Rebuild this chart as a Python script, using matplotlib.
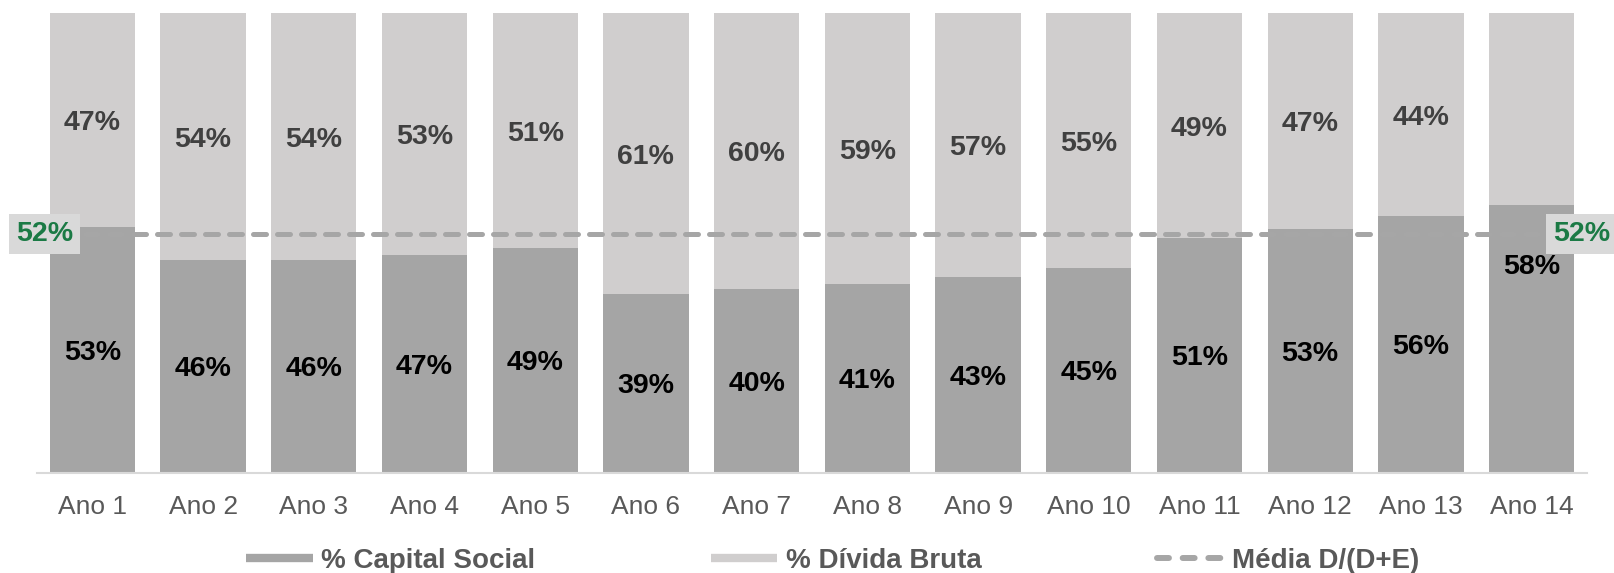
import matplotlib
matplotlib.use("Agg")
import matplotlib.pyplot as plt
from matplotlib.lines import Line2D

plt.rcParams['font.family'] = ['Liberation Sans', 'DejaVu Sans']

categories = ["Ano 1", "Ano 2", "Ano 3", "Ano 4", "Ano 5", "Ano 6", "Ano 7",
              "Ano 8", "Ano 9", "Ano 10", "Ano 11", "Ano 12", "Ano 13", "Ano 14"]
capital_social = [53.4, 46.2, 46.2, 47.3, 48.9, 38.8, 39.9, 41.0, 42.6, 44.6, 51.1, 53.1, 55.8, 58.3]
divida_bruta = [100 - v for v in capital_social]
media = 52.0

c_dark = "#A5A5A5"
c_light = "#D0CECE"
c_line = "#A6A6A6"
c_green = "#1B7A45"

fig = plt.figure(figsize=(16.14, 5.73), dpi=100)
ax = fig.add_axes([37 / 1614, 1 - 472.5 / 573, 1550 / 1614, (472.5 - 13.4) / 573])

x = list(range(len(categories)))
cap = [v / 100 for v in capital_social]
deb = [v / 100 for v in divida_bruta]
ax.bar(x, cap, width=0.77, color=c_dark, zorder=2)
ax.bar(x, deb, width=0.77, bottom=cap, color=c_light, zorder=2)

ax.plot([-0.5, 13.5], [media / 100, media / 100], color=c_line, lw=3.6,
        ls=(0, (2.6, 2.2)), dash_capstyle='round', zorder=3)

VA = 'center_baseline'
for i in x:
    if i == len(x) - 1:
        ax.text(i, 0.455, f"{capital_social[i]:.0f}%", ha='center', va=VA,
                fontsize=20.5, fontweight='bold', color='black', zorder=4)
    else:
        ax.text(i, cap[i] / 2, f"{capital_social[i]:.0f}%", ha='center', va=VA,
                fontsize=20.5, fontweight='bold', color='black', zorder=4)
        ax.text(i, cap[i] + deb[i] / 2, f"{divida_bruta[i]:.0f}%", ha='center', va=VA,
                fontsize=20.5, fontweight='bold', color='#404040', zorder=4)

for xp in (-0.432, 13.45):
    ax.text(xp, media / 100, f"{media:.0f}%", ha='center', va='center', fontsize=20.5,
            fontweight='bold', color=c_green, zorder=5, clip_on=False,
            bbox=dict(boxstyle='square,pad=0.25', fc='#D9D9D9', ec='none'))

ax.set_xlim(-0.5, 13.5)
ax.set_ylim(0, 1)
ax.set_xticks(x)
ax.set_xticklabels(categories, fontsize=19, color='#595959')
ax.tick_params(axis='x', length=0, pad=16)
ax.set_yticks([])
for s in ('top', 'right', 'left'):
    ax.spines[s].set_visible(False)
ax.spines['bottom'].set_color('#D9D9D9')
ax.spines['bottom'].set_linewidth(1.5)

handles = [
    Line2D([0], [0], color=c_dark, lw=6, solid_capstyle='butt'),
    Line2D([0], [0], color=c_light, lw=6, solid_capstyle='butt'),
    Line2D([0], [0], color=c_line, lw=4.3, ls=(0, (2.0, 2.3)), dash_capstyle='round'),
]
labels = ["% Capital Social", "% Dívida Bruta", "Média D/(D+E)"]
leg = fig.legend(handles, labels, loc='center', bbox_to_anchor=(0.516, 0.021), ncol=3,
                 frameon=False, handlelength=2.4, handletextpad=0.32, columnspacing=6.3,
                 borderpad=0, prop={'size': 20, 'weight': 'bold'})
for t in leg.get_texts():
    t.set_color('#595959')

fig.savefig("out.png", dpi=100)
